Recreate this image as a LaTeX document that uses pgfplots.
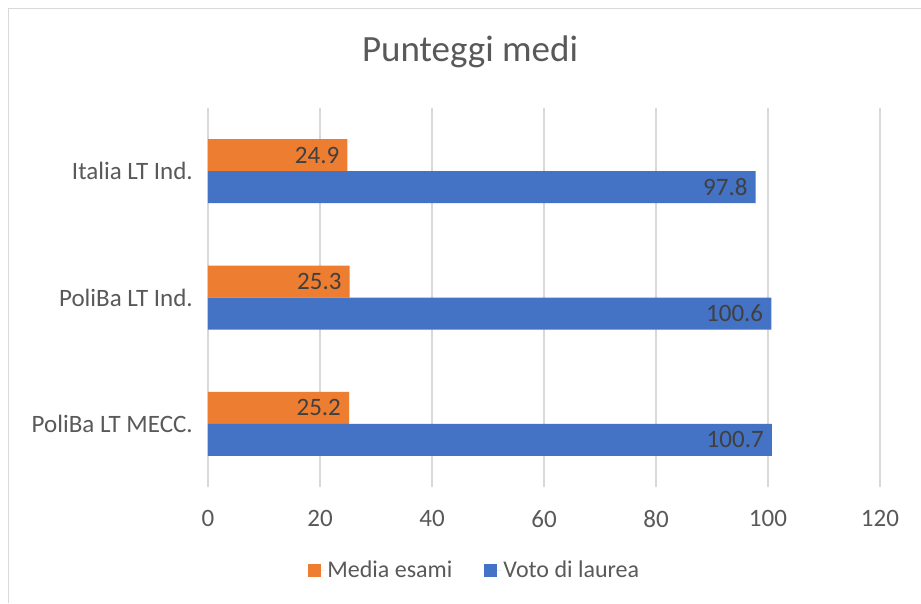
\documentclass[border=0pt]{standalone}
\usepackage{fontspec}
\setmainfont{Carlito}
\usepackage{pgfplots}
\pgfplotsset{compat=1.18}

\definecolor{xlorange}{HTML}{ED7D31}
\definecolor{xlblue}{HTML}{4472C4}
\definecolor{xltext}{HTML}{595959}
\definecolor{xllabel}{HTML}{404040}
\definecolor{xlgrid}{HTML}{D9D9D9}

\begin{document}
\begin{tikzpicture}
\useasboundingbox (0pt,0pt) rectangle (921pt,603pt);
\fill[white] (0pt,0pt) rectangle (921pt,603pt);
\draw[xlgrid, line width=1.5pt] (8.5pt,0pt) -- (8.5pt,594.5pt) -- (921pt,594.5pt);

\begin{axis}[
  at={(208pt,116pt)}, anchor=south west,
  scale only axis,
  width=672pt, height=379pt,
  xbar, bar width=32pt,
  xmin=0, xmax=120, xtick={0,20,...,120},
  ymin=-0.5, ymax=2.5,
  ytick={0,1,2},
  yticklabels={PoliBa LT MECC., PoliBa LT Ind., Italia LT Ind.},
  axis line style={draw=none},
  major tick length=0pt,
  xmajorgrids, grid style={xlgrid, line width=1.5pt},
  /pgf/number format/assume math mode=true,
  tick label style={font=\fontsize{25}{29}\selectfont, text=xltext, inner sep=0pt},
  yticklabel style={anchor=east, xshift=-15pt},
  xticklabel style={anchor=north, yshift=-23pt},
  title={Punteggi medi},
  title style={at={(0.39,1.132)}, anchor=center, font=\fontsize{37}{42}\selectfont, text=xltext},
  nodes near coords,
  nodes near coords style={font=\fontsize{25}{29}\selectfont, text=xllabel, anchor=east, xshift=-8pt, inner sep=0pt,
    /pgf/number format/.cd, fixed, fixed zerofill, precision=1, assume math mode=true},
  legend style={at={(0.397,-0.219)}, anchor=center, draw=none, fill=none,
    legend columns=2, font=\fontsize{24}{28}\selectfont, text=xltext,
    /tikz/every even column/.append style={column sep=30pt}},
  legend image code/.code={\fill[#1] (0pt,-6.5pt) rectangle (13pt,6.5pt); \path (0pt,0pt) -- (17pt,0pt);},
]
\addplot[fill=xlorange, draw=none, bar shift=16pt] coordinates {(25.2,0) (25.3,1) (24.9,2)};
\addplot[fill=xlblue, draw=none, bar shift=-16pt] coordinates {(100.7,0) (100.6,1) (97.8,2)};
\legend{Media esami, Voto di laurea}
\end{axis}
\end{tikzpicture}
\end{document}
